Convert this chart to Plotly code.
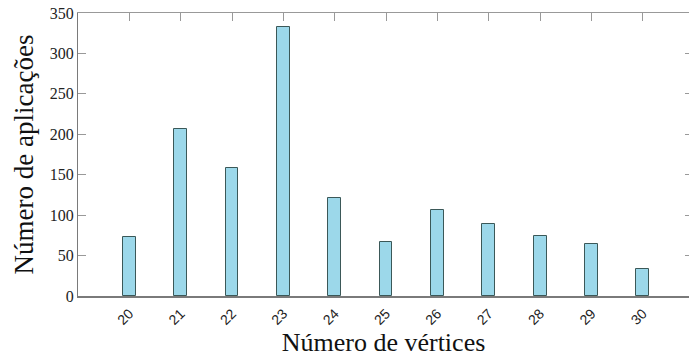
import plotly.graph_objects as go

vertices = [20, 21, 22, 23, 24, 25, 26, 27, 28, 29, 30]
counts = [73, 207, 158, 333, 121, 67, 106, 89, 74, 64, 34]
y_ticks = [0, 50, 100, 150, 200, 250, 300, 350]

fig = go.Figure()
fig.add_trace(go.Bar(
    x=vertices, y=counts, width=0.25,
    marker=dict(color="#9cd8ea", line=dict(color="#3b5858", width=1)),
    showlegend=False,
))
# invisible trace to activate mirrored axes
fig.add_trace(go.Scatter(x=[vertices[0]], y=[0], xaxis="x2", yaxis="y2",
                         mode="markers", marker=dict(opacity=0), showlegend=False,
                         hoverinfo="skip"))

xr = [19.0, 30.9]
yr = [0, 350]
fig.update_layout(
    width=689, height=358,
    margin=dict(l=78, r=0, t=13, b=62),
    plot_bgcolor="white", paper_bgcolor="white",
    xaxis=dict(range=xr, tickvals=vertices, ticktext=[str(v) for v in vertices],
               tickangle=-45, ticks="outside", ticklen=2, tickcolor="rgba(0,0,0,0)",
               showgrid=False, zeroline=False,
               showline=True, linecolor="#7a7a7a", linewidth=2,
               tickfont=dict(family="Liberation Sans", size=14, color="#222"),
               title=dict(text="Número de vértices", standoff=6,
                          font=dict(family="Liberation Serif", size=26, color="#111"))),
    xaxis2=dict(range=xr, overlaying="x", side="top", tickvals=vertices,
                ticks="inside", ticklen=8, tickcolor="#999", showticklabels=False,
                showgrid=False, zeroline=False, showline=True, linecolor="#999", linewidth=1),
    yaxis=dict(range=yr, tickvals=y_ticks, ticks="inside", ticklen=8, tickcolor="#999",
               showgrid=False, zeroline=False, showline=True, linecolor="#7a7a7a", linewidth=1,
               tickfont=dict(family="Liberation Serif, serif", size=16, color="#222"),
               title=dict(text="Número de aplicações", standoff=8,
                          font=dict(family="Liberation Serif", size=27, color="#111"))),
    yaxis2=dict(range=yr, overlaying="y", side="right", tickvals=y_ticks,
                ticks="inside", ticklen=4, tickcolor="#999", showticklabels=False,
                showgrid=False, zeroline=False, showline=False),
    bargap=0,
)
fig.write_html("out.html")
